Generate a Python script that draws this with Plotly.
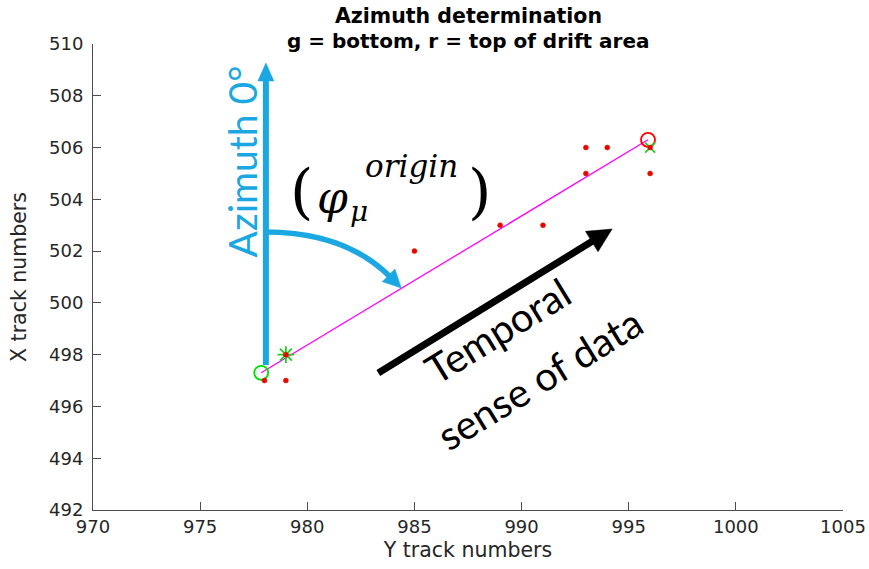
import math
import plotly.graph_objects as go

# Observed track hits (Y track, X track)
hit_y = [978, 979, 979, 985, 989, 991, 993, 993, 994, 996, 996]
hit_x = [497, 497, 498, 502, 503, 503, 506, 505, 506, 506, 505]

# Fitted drift direction: bottom (g) and top (r) of the drift area
fit_y = [977.85, 995.9]
fit_x = [497.3, 506.3]

# Reference hits marking the first and last layer
first_hit = (979, 498)
last_hit = (996, 506)

x_ticks = [970, 975, 980, 985, 990, 995, 1000, 1005]
y_ticks = [492, 494, 496, 498, 500, 502, 504, 506, 508, 510]

W, H = 869, 569
ML, MR, MT, MB = 92.5, 26, 44, 59
X0, X1 = 970, 1005
Y0, Y1 = 492, 510
PW, PH = W - ML - MR, H - MT - MB


def dx(px):
    return X0 + (px - ML) * (X1 - X0) / PW


def dy(py):
    return Y1 - (py - MT) * (Y1 - Y0) / PH


def arrow(fig, tail, tip, color, width, head_len, head_half):
    """Straight arrow (page pixels) drawn as a line plus a filled head."""
    ux, uy = tip[0] - tail[0], tip[1] - tail[1]
    n = math.hypot(ux, uy)
    ux, uy = ux / n, uy / n
    bx, by = tip[0] - ux * head_len, tip[1] - uy * head_len
    fig.add_shape(type="line", xref="x", yref="y",
                  x0=dx(tail[0]), y0=dy(tail[1]),
                  x1=dx(bx + ux * 2), y1=dy(by + uy * 2),
                  line=dict(color=color, width=width))
    head(fig, tip, (ux, uy), color, head_len, head_half)


def head(fig, tip, u, color, head_len, head_half):
    ux, uy = u
    bx, by = tip[0] - ux * head_len, tip[1] - uy * head_len
    px, py = -uy, ux
    pts = [tip, (bx + px * head_half, by + py * head_half),
           (bx - px * head_half, by - py * head_half)]
    path = "M " + " L ".join(f"{dx(a)},{dy(b)}" for a, b in pts) + " Z"
    fig.add_shape(type="path", xref="x", yref="y", path=path,
                  fillcolor=color, line=dict(color=color, width=0.5))


BLUE = "#1AA7E2"
SANS = "DejaVu Sans"
fig = go.Figure()

fig.add_trace(go.Scatter(x=fit_y, y=fit_x, mode="lines",
                         line=dict(color="#FF00FF", width=1.3), hoverinfo="skip"))
fig.add_trace(go.Scatter(x=[fit_y[0]], y=[fit_x[0]], mode="markers",
                         marker=dict(symbol="circle-open", size=14, color="#00E000",
                                     line=dict(width=1.8))))
fig.add_trace(go.Scatter(x=[fit_y[1]], y=[fit_x[1]], mode="markers",
                         marker=dict(symbol="circle-open", size=14, color="#FF0000",
                                     line=dict(width=1.8))))
fig.add_trace(go.Scatter(x=[first_hit[0]], y=[first_hit[1]], mode="markers",
                         marker=dict(symbol="asterisk-open", size=14, color="#22CC22",
                                     line=dict(width=1.8))))
fig.add_trace(go.Scatter(x=[last_hit[0]], y=[last_hit[1]], mode="markers",
                         marker=dict(symbol="x-thin-open", size=10, color="#22CC22",
                                     line=dict(width=1.8))))
fig.add_trace(go.Scatter(x=hit_y, y=hit_x, mode="markers",
                         marker=dict(symbol="circle", size=5, color="#F00000",
                                     line=dict(color="#CC2200", width=0.5))))

# Vertical "Azimuth 0°" arrow
arrow(fig, (265.5, 365), (265.5, 63), BLUE, 6, 18, 8)
# Curved azimuth angle arrow
fig.add_shape(type="path", xref="x", yref="y",
              path=f"M {dx(265)},{dy(232)} Q {dx(345)},{dy(232)} {dx(390)},{dy(277)}",
              line=dict(color=BLUE, width=5.5))
head(fig, (401, 288), (math.sqrt(0.5), math.sqrt(0.5)), BLUE, 18, 9)
# Temporal direction arrow
arrow(fig, (378, 373), (612, 229), "black", 7, 24, 12)

ann = []
ann.append(dict(x=dx(242), y=dy(161), xref="x", yref="y", text="Azimuth 0°",
                textangle=-90, showarrow=False,
                font=dict(family="Lato", size=39, color=BLUE)))
# Angle symbol (φ_μ^origin)
SERIF = "DejaVu Serif"
ann.append(dict(x=dx(314), y=dy(191), xref="x", yref="y", xanchor="right",
                text="(", borderpad=0,
                showarrow=False, font=dict(family=SERIF, size=60, color="black")))
ann.append(dict(x=dx(316), y=dy(197), xref="x", yref="y", xanchor="left",
                text="<i>φ</i>", borderpad=0,
                showarrow=False, font=dict(family=SERIF, size=44, color="black")))
ann.append(dict(x=dx(349), y=dy(211), xref="x", yref="y", xanchor="left",
                text="<i>μ</i>", borderpad=0,
                showarrow=False, font=dict(family=SERIF, size=28, color="black")))
ann.append(dict(x=dx(364), y=dy(166), xref="x", yref="y", xanchor="left",
                text="<i>origin</i>", borderpad=0,
                showarrow=False, font=dict(family=SERIF, size=31, color="black")))
ann.append(dict(x=dx(467), y=dy(191), xref="x", yref="y", xanchor="left",
                text=")", borderpad=0,
                showarrow=False, font=dict(family=SERIF, size=60, color="black")))
ann.append(dict(x=dx(497), y=dy(331), xref="x", yref="y", text="Temporal",
                textangle=-31.5, showarrow=False,
                font=dict(family="Lato", size=40, color="black")))
ann.append(dict(x=dx(539), y=dy(379), xref="x", yref="y", text="sense of data",
                textangle=-31.5, showarrow=False,
                font=dict(family="Lato", size=40, color="black")))
# Two-line title
ann.append(dict(x=0.5, y=1 + (MT - 16) / PH, xref="paper", yref="paper",
                yanchor="middle", text="<b>Azimuth determination</b>", showarrow=False,
                font=dict(family=SANS, size=20.5, color="black")))
ann.append(dict(x=0.5, y=1 + (MT - 41) / PH, xref="paper", yref="paper",
                yanchor="middle", text="<b>g = bottom, r = top of drift area</b>",
                showarrow=False, font=dict(family=SANS, size=20, color="black")))
fig.update_layout(annotations=ann)

axis_common = dict(showgrid=False, zeroline=False, showline=True,
                   linecolor="#4D4D4D", linewidth=1, ticks="inside", ticklen=8,
                   tickcolor="#4D4D4D", mirror=False,
                   tickfont=dict(family=SANS, size=18, color="#262626"))
fig.update_xaxes(range=[X0, X1], tickvals=x_ticks, **axis_common,
                 title=dict(text="Y track numbers", standoff=7,
                            font=dict(family=SANS, size=20.5, color="#262626")))
fig.update_yaxes(range=[Y0, Y1], tickvals=y_ticks, ticklabelstandoff=5, **axis_common,
                 title=dict(text="X track numbers", standoff=16,
                            font=dict(family=SANS, size=20.5, color="#262626")))

fig.update_layout(width=W, height=H, showlegend=False,
                  margin=dict(l=ML, r=MR, t=MT, b=MB, autoexpand=False),
                  plot_bgcolor="white", paper_bgcolor="white")
fig.write_html("out.html")
